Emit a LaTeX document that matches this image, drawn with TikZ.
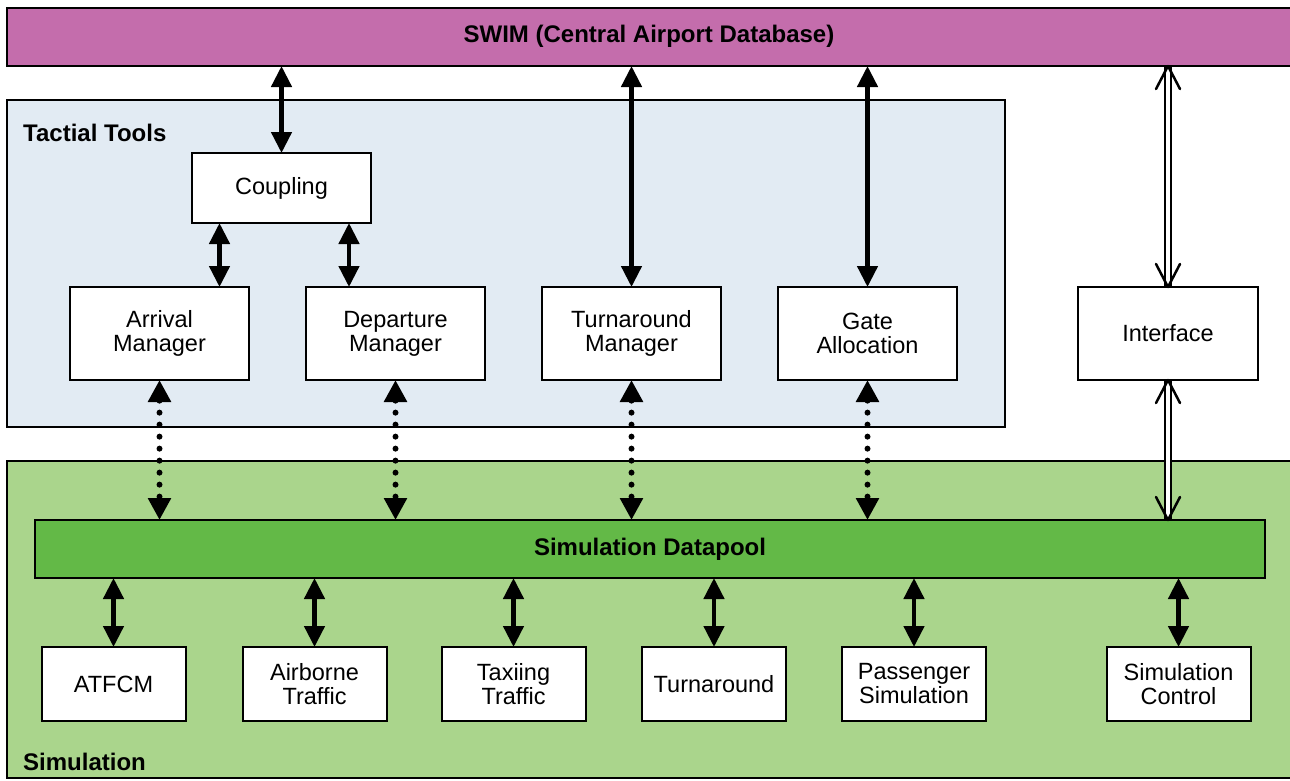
\documentclass[tikz,border=0pt]{standalone}
\usepackage{fontspec}
\setmainfont{Liberation Sans}
\usetikzlibrary{arrows.meta,calc}

\definecolor{swimfill}{RGB}{196,109,172}
\definecolor{tacfill}{RGB}{226,235,243}
\definecolor{simfill}{RGB}{170,213,140}
\definecolor{poolfill}{RGB}{99,185,71}

\tikzset{
  region/.style={draw=black, line width=2pt, inner sep=0pt, outer sep=0pt},
  box/.style={draw=black, line width=2pt, fill=white, align=center, inner sep=0pt, outer sep=0pt,
    font=\fontsize{23.5}{24}\selectfont},
  topbox/.style={box, minimum width=179pt, minimum height=93pt},
  simbox/.style={box, minimum width=144pt, minimum height=74pt},
  boldlabel/.style={font=\fontsize{24}{26}\selectfont\bfseries, inner sep=0pt},
  biarrow/.style={draw=black, line width=4.5pt, {Triangle[length=21pt,width=20pt]}-{Triangle[length=21pt,width=20pt]}},
  dotarrow/.style={draw=black, line width=6pt, line cap=round, dash pattern=on 0pt off 12pt,
    {Triangle[length=22pt,width=22pt]}-{Triangle[length=22pt,width=22pt]}},
  dblline/.style={draw=black, line width=2.3pt, double=white, double distance=3.5pt},
  vtip/.style={draw=black, line width=2.5pt, line join=round, line cap=round},
}

\begin{document}
\begin{tikzpicture}[x=1pt,y=-1pt]
\useasboundingbox (0,0) rectangle (1290,780);

% background regions
\node[region, fill=swimfill, minimum width=1284pt, minimum height=58pt] (swim) at (649,37) {};
\node[boldlabel] (swimtext) at (649,36) {SWIM (Central Airport Database)};
\node[region, fill=tacfill, minimum width=998pt, minimum height=327pt] (tactical) at (506,263.5) {};
\node[boldlabel, anchor=west] (tactlabel) at (23,133) {Tactial Tools};
\node[region, fill=simfill, minimum width=1284pt, minimum height=317pt] (simulation) at (649,619.5) {};
\node[boldlabel, anchor=west] (simlabel) at (23,762) {Simulation};
\node[region, fill=poolfill, minimum width=1230pt, minimum height=58pt] (pool) at (650,549) {};
\node[boldlabel] (pooltext) at (650,549) {Simulation Datapool};

% tactical tools
\node[box, minimum width=179pt, minimum height=70pt] (coupling) at (281.5,188) {Coupling};
\node[topbox] (arrival) at (159.5,333.5) {Arrival\\Manager};
\node[topbox] (departure) at (395.5,333.5) {Departure\\Manager};
\node[topbox] (turnmgr) at (631.5,333.5) {Turnaround\\Manager};
\node[topbox] (gate) at (867.5,333.5) {Gate\\Allocation};
\node[box, minimum width=180pt, minimum height=93pt] (iface) at (1168,333.5) {Interface};

% simulation components
\node[simbox] (atfcm) at (113.5,684) {ATFCM};
\node[simbox] (airborne) at (314.5,684) {Airborne\\Traffic};
\node[simbox] (taxiing) at (513.5,684) {Taxiing\\Traffic};
\node[simbox] (turnaround) at (714,684) {Turnaround};
\node[simbox] (passenger) at (914,684) {Passenger\\Simulation};
\node[simbox] (simctl) at (1178.5,684) {Simulation\\Control};

% SWIM links
\draw[biarrow] (swim.south -| coupling.north) -- (coupling.north);
\draw[biarrow] (swim.south -| turnmgr.north) -- (turnmgr.north);
\draw[biarrow] (swim.south -| gate.north) -- (gate.north);

% coupling links
\draw[biarrow] ([xshift=-62pt]coupling.south) -- ([xshift=-62pt]coupling.south |- arrival.north);
\draw[biarrow] ([xshift=67.5pt]coupling.south) -- ([xshift=67.5pt]coupling.south |- departure.north);

% tools to datapool
\draw[dotarrow] (arrival.south) -- (arrival.south |- pool.north);
\draw[dotarrow] (departure.south) -- (departure.south |- pool.north);
\draw[dotarrow] (turnmgr.south) -- (turnmgr.south |- pool.north);
\draw[dotarrow] (gate.south) -- (gate.south |- pool.north);

% datapool to simulation components
\draw[biarrow] (pool.south -| atfcm.north) -- (atfcm.north);
\draw[biarrow] (pool.south -| airborne.north) -- (airborne.north);
\draw[biarrow] (pool.south -| taxiing.north) -- (taxiing.north);
\draw[biarrow] (pool.south -| turnaround.north) -- (turnaround.north);
\draw[biarrow] (pool.south -| passenger.north) -- (passenger.north);
\draw[biarrow] (pool.south -| simctl.north) -- (simctl.north);

% interface: hollow double-line arrows
\coordinate (ifacetop) at (swim.south -| iface.north);
\coordinate (ifacebot) at (pool.north -| iface.south);
\draw[dblline, shorten <=1pt, shorten >=1pt] (ifacetop) -- (iface.north);
\draw[vtip] ($(ifacetop)+(-12,23)$) -- (ifacetop) -- ++(12,23);
\draw[vtip] ($(iface.north)+(-12,-23)$) -- (iface.north) -- ++(12,-23);
\draw[dblline, shorten <=1pt, shorten >=1pt] (iface.south) -- (ifacebot);
\draw[vtip] ($(iface.south)+(-12,23)$) -- (iface.south) -- ++(12,23);
\draw[vtip] ($(ifacebot)+(-12,-23)$) -- (ifacebot) -- ++(12,-23);
\end{tikzpicture}
\end{document}
